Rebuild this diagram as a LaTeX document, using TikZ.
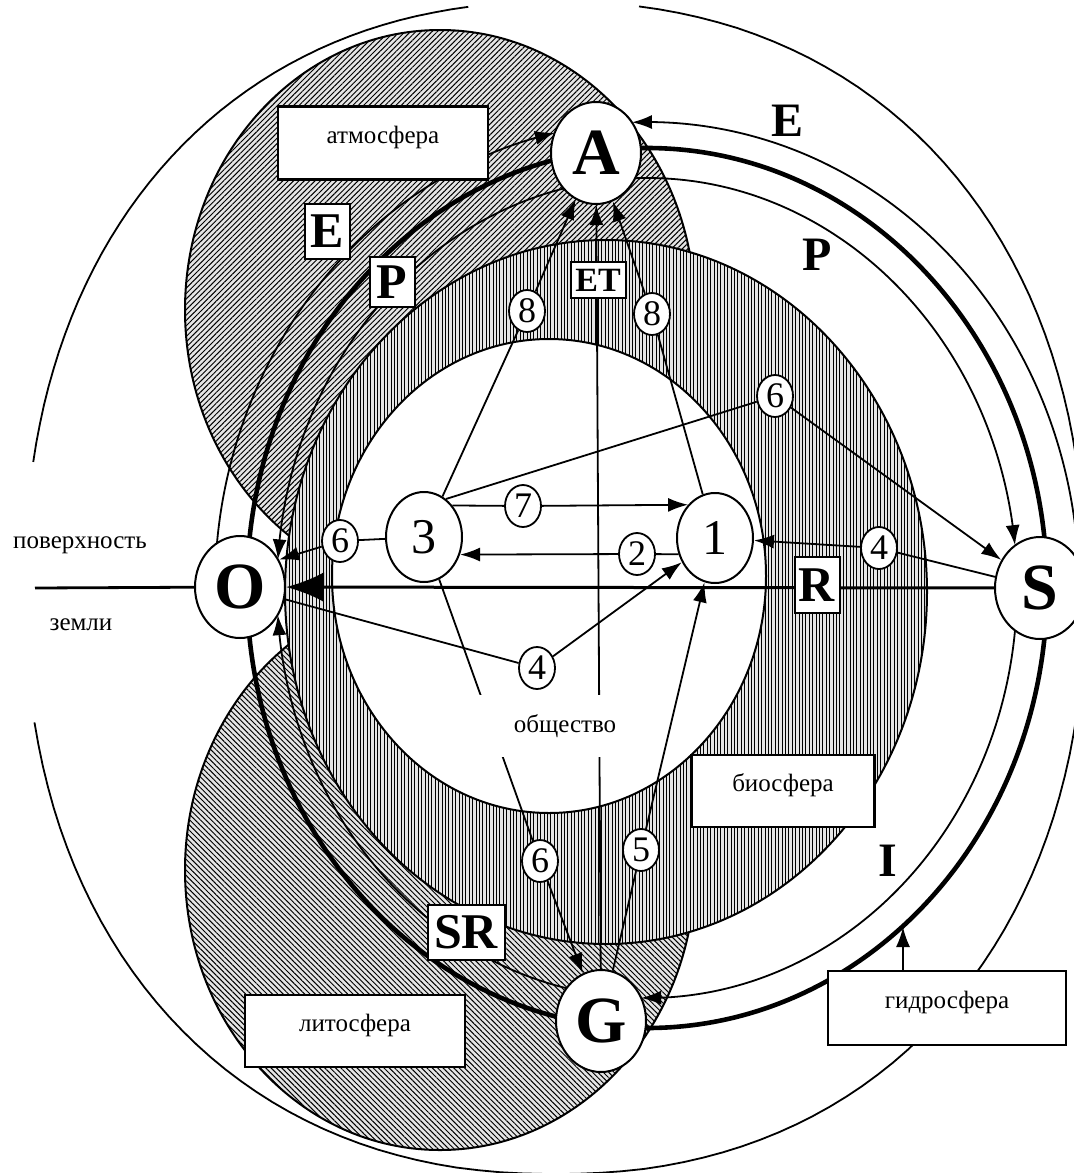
\documentclass[tikz,border=0pt]{standalone}
\usepackage{fontspec}
\setmainfont{Liberation Serif}
\usetikzlibrary{arrows.meta,shapes.geometric,patterns.meta,bending}
\pgfdeclarelayer{back}
\pgfsetlayers{back,main}
\begin{document}
\begin{tikzpicture}[x=0.5pt,y=-0.5pt,
  every node/.style={inner sep=0pt},
  hub/.style={ellipse,draw,line width=1pt,fill=white,minimum width=45pt,minimum height=51pt,font=\fontsize{33}{33}\selectfont\bfseries},
  part/.style={ellipse,draw,line width=1pt,fill=white,minimum width=38pt,minimum height=45pt,font=\fontsize{25}{25}\selectfont},
  num/.style={ellipse,draw,line width=0.9pt,fill=white,minimum width=18pt,minimum height=21pt,font=\fontsize{18}{18}\selectfont},
  tag/.style={draw,line width=1pt,fill=white,font=\fontsize{25}{25}\selectfont\bfseries},
  sphere/.style={draw,line width=1.3pt,fill=white,text height=9pt,text depth=9pt,font=\fontsize{12.5}{15}\selectfont},
  letter/.style={font=\fontsize{24}{24}\selectfont\bfseries},
  ring/.style={line width=0.9pt},
  link/.style={line width=0.9pt},
  flow/.style={line width=0.9pt,-{Latex[length=10pt,width=7pt]}},
  hatchA/.style={line width=1pt,fill=gray!20,postaction={pattern={Lines[angle=45,distance=1.9pt,line width=0.5pt]}}},
  hatchL/.style={line width=1pt,fill=gray!20,postaction={pattern={Lines[angle=-45,distance=1.9pt,line width=0.5pt]}}},
  hatchB/.style={line width=1pt,fill=gray!20,postaction={pattern={Lines[angle=90,distance=1.7pt,line width=0.5pt]}}}]
\useasboundingbox (0,0) rectangle (1073,1173);

% Knoten
\node[hub] (A) at (596,153) {A};
\node[hub] (O) at (240,587) {O};
\node[hub] (S) at (1040,588) {S};
\node[hub] (G) at (601,1021) {G};
\node[part] (n3) at (424,537) {3};
\node[part] (n1) at (715,538) {1};
\node[num] (8a) at (527,311) {8};
\node[num] (8b) at (652,314) {8};
\node[num] (6a) at (775,396) {6};
\node[num] (7) at (523,506) {7};
\node[num] (2) at (637,554) {2};
\node[num] (4a) at (879,548) {4};
\node[num] (6b) at (340,541) {6};
\node[num] (4b) at (537,668) {4};
\node[num] (6c) at (540,861) {6};
\node[num] (5) at (641,850) {5};

\begin{pgfonlayer}{back}
% Sphaeren
\filldraw[hatchA] (440,310) ellipse [x radius=255, y radius=280];
\filldraw[hatchL] (440,870) ellipse [x radius=255, y radius=280];
\filldraw[hatchB] (606,592) ellipse [x radius=321, y radius=352];
\filldraw[line width=1pt,fill=white] (549,576) ellipse [x radius=217, y radius=237];

% Rand
\draw[ring] plot [domain=277.4:528.6, samples=120, variable=\t]
  ({555+530*(cos(\t)<0 ? -1 : 1)*pow(abs(cos(\t)),0.909)}, {588+586*(sin(\t)<0 ? -1 : 1)*pow(abs(sin(\t)),0.909)});
\draw[ring] plot [domain=190.6:262.3, samples=40, variable=\t]
  ({555+530*(cos(\t)<0 ? -1 : 1)*pow(abs(cos(\t)),0.909)}, {588+586*(sin(\t)<0 ? -1 : 1)*pow(abs(sin(\t)),0.909)});

% Kreislaeufe
\draw[line width=2.3pt] (647,588) ellipse [x radius=400, y radius=440];
\draw[flow] (647,588) ++(178:432 and 466) arc [start angle=178, end angle=257.7, x radius=432, y radius=466];
\draw[flow] (647,588) ++(2:432 and 466) arc [start angle=2, end angle=-92, x radius=432, y radius=466];
\draw[flow] (647,588) ++(262:370 and 410) arc [start angle=262, end angle=184, x radius=370, y radius=410];
\draw[flow] (647,588) ++(-94:370 and 410) arc [start angle=-94, end angle=-6, x radius=370, y radius=410];
\draw[flow] (647,588) ++(5:370 and 410) arc [start angle=5, end angle=90.9, x radius=370, y radius=410];
\draw[flow] (647,588) ++(95:370 and 410) arc [start angle=95, end angle=176.2, x radius=370, y radius=410];
\end{pgfonlayer}

% Verbindungen
\draw[link] (n3) -- (8a);
\draw[flow] (8a) -- (A);
\draw[link] (n1) -- (8b);
\draw[flow] (8b) -- (A);
\draw[flow] (G) -- (A);
\draw[link] (n3.48) -- (7);
\draw[flow] (7) -- (n1.129);
\draw[link] (n1.204) -- (2);
\draw[flow] (2) -- (n3.-26);
\draw[link] (S) -- (4a);
\draw[flow] (4a) -- (n1);
\draw[link] (O) -- (4b);
\draw[flow] (4b) -- (n1);
\draw[link] (G) -- (5);
\draw[flow] (5) -- (n1);
\draw[link] (n3) -- (6b);
\draw[flow] (6b) -- (O.35);
\draw[link] (n3.60) -- (6a);
\draw[flow] (6a) -- (S);
\draw[link] (n3) -- (6c);
\draw[flow] (6c) -- (G);
\coordinate (surf) at (35,588);
\draw[line width=1.4pt] (surf) -- (O);
\draw[line width=1.5pt,-{Latex[length=19pt,width=15pt]}] (S) -- (O);

% Beschriftungen
\node[tag,minimum width=22.5pt,minimum height=27.5pt] (E) at (327,231) {E};
\node[tag,minimum width=22.5pt,minimum height=25pt] (P) at (392,282) {P};
\node[tag,minimum width=27.5pt,minimum height=18pt,font=\fontsize{17}{17}\selectfont\bfseries] (ET) at (598,280) {ET};
\node[tag,minimum width=22.5pt,minimum height=28pt] (R) at (817,585) {R};
\node[tag,minimum width=38.5pt,minimum height=27.5pt] (SR) at (466,932) {SR};
\node[sphere,minimum width=105pt,minimum height=36.5pt] (atm) at (383,143) {атмосфера};
\node[sphere,minimum width=91.5pt,minimum height=36pt] (bio) at (783,791) {биосфера};
\node[sphere,minimum width=110pt,minimum height=36pt] (lit) at (355,1031) {литосфера};
\node[sphere,minimum width=119pt,minimum height=37pt] (hydro) at (947,1008) {гидросфера};
\node[fill=white,minimum width=95pt,minimum height=31pt,font=\fontsize{12.5}{15}\selectfont] (soc) at (565,726) {общество};
\node[font=\fontsize{12.5}{15}\selectfont] (surf1) at (80,545) {поверхность};
\node[font=\fontsize{12.5}{15}\selectfont] (surf2) at (81,625) {земли};
\node[letter] (Etop) at (787,121) {E};
\node[letter] (Ptop) at (817,255) {P};
\node[letter] (I) at (888,861) {I};
\coordinate (hydtip) at (903,927);
\draw[flow] (hydro.north -| hydtip) -- (hydtip);
\end{tikzpicture}
\end{document}
